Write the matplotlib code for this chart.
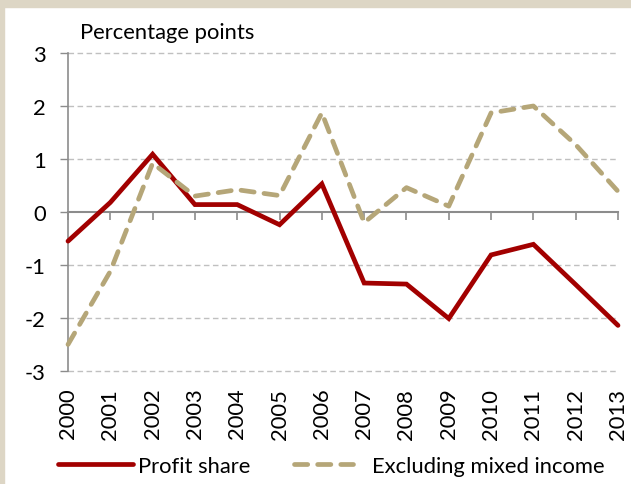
import matplotlib.pyplot as plt
from matplotlib.patches import Rectangle

plt.rcParams.update({"font.family": ["Lato", "DejaVu Sans"], "font.size": 15.8,
                     "axes.unicode_minus": False})
RED, TAN, GRID, AXIS, BEIGE = "#a20000", "#b5a678", "#c0c0c0", "#8c8c8c", "#ddd6c5"

years = [str(y) for y in range(2000, 2014)]
profit_share = [-0.55, 0.18, 1.09, 0.14, 0.14, -0.24, 0.53, -1.34, -1.36, -2.01,
                -0.81, -0.61, -1.37, -2.14]
excl_mixed = [-2.50, -1.12, 0.92, 0.30, 0.42, 0.31, 1.87, -0.20, 0.46, 0.11,
              1.87, 2.00, 1.27, 0.39]
yticks = [-3, -2, -1, 0, 1, 2, 3]

W, H = 631, 485
fig = plt.figure(figsize=(W/100, H/100), dpi=100)
fig.patches.append(Rectangle((0, 0), 4/W, 1, transform=fig.transFigure, color=BEIGE, zorder=0))
fig.patches.append(Rectangle((0, 1-8/H), 1, 8/H, transform=fig.transFigure, color=BEIGE, zorder=0))

ax = fig.add_axes([68/W, 1-372/H, 550/W, 318/H])
x = list(range(len(years)))

# grid and axes
for yv in yticks:
    if yv != 0:
        ax.axhline(yv, color=GRID, lw=1, ls=(0, (4, 2.5)), zorder=1, clip_on=False)
for s in ["top", "right"]:
    ax.spines[s].set_visible(False)
ax.spines["left"].set_color(AXIS)
ax.spines["left"].set_linewidth(1.2)
ax.spines["bottom"].set_position(("data", 0))
ax.spines["bottom"].set_color(AXIS)
ax.spines["bottom"].set_linewidth(1.5)
ax.set_xlim(0, len(years)-1)
ax.set_ylim(-3, 3)
ax.set_yticks(yticks)
ax.set_yticklabels([str(v) for v in yticks])
ax.set_xticks(x)
ax.tick_params(axis="x", direction="out", length=6, width=1.2, color=AXIS, labelbottom=False)
ax.tick_params(axis="y", direction="out", length=6, width=1, color=AXIS, pad=10)

sec = ax.secondary_xaxis("bottom")
sec.set_xticks(x)
sec.set_xticklabels(years, rotation=90)
sec.tick_params(length=0, pad=12)
sec.spines["bottom"].set_visible(False)

l1, = ax.plot(x, profit_share, color=RED, lw=3.4, solid_capstyle="round",
              solid_joinstyle="miter", label="Profit share", zorder=3, clip_on=False)
l2, = ax.plot(x, excl_mixed, color=TAN, lw=3.4, dashes=(2.8, 2.1), dash_capstyle="round",
              label="Excluding mixed income", zorder=3, clip_on=False)

ax.text(80/W, 1-33/H, "Percentage points", transform=fig.transFigure, va="center", ha="left")

# two separate legend entries, as in the original layout
fig.legend(handles=[l1], loc="center left", bbox_to_anchor=(58/W, 1-467/H), frameon=False,
           handlelength=3.4, handletextpad=0.25, borderpad=0, borderaxespad=0)
fig.legend(handles=[l2], loc="center left", bbox_to_anchor=(294/W, 1-467/H), frameon=False,
           handlelength=2.7, handletextpad=0.85, borderpad=0, borderaxespad=0)

fig.savefig("out.png", dpi=100)
